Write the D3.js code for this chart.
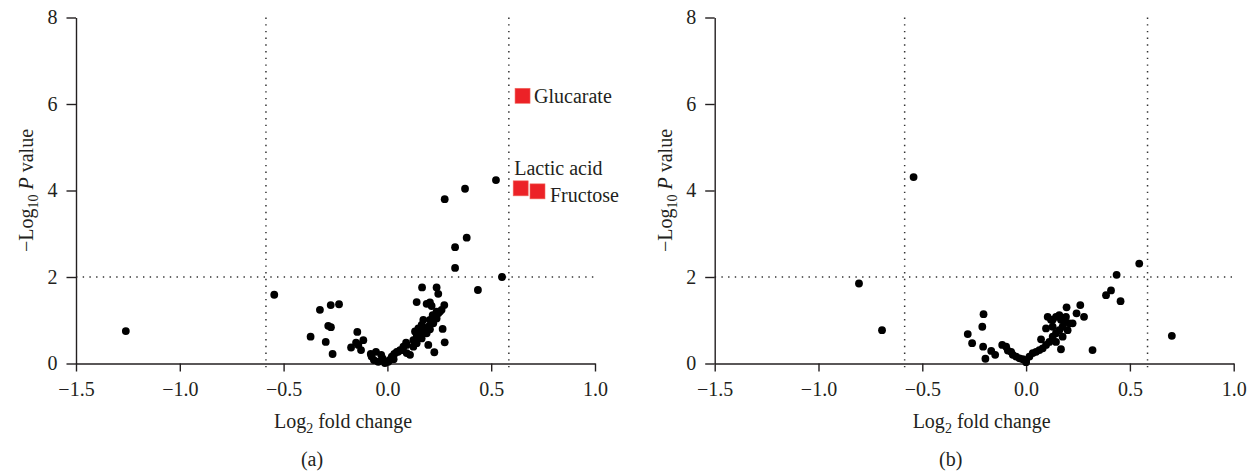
<!DOCTYPE html>
<html>
<head>
<meta charset="utf-8">
<script src="https://cdn.jsdelivr.net/npm/d3@7"></script>
<style>
  html, body { margin: 0; padding: 0; background: #fff; }
  svg text { font-family: "Liberation Serif", "DejaVu Serif", serif; fill: #231f20; }
</style>
</head>
<body>
<svg id="chart" width="1254" height="473"></svg>
<script>
// ---- data ----
const xTicks = [-1.5, -1.0, -0.5, 0.0, 0.5, 1.0];
const yTicks = [0, 2, 4, 6, 8];
const foldThreshold = 0.585;   // log2(1.5)
const pThreshold = 2;
const panelLabels = ["(a)", "(b)"];

const pointsA = [
  [-1.26,0.75],[-0.545,1.59],[-0.37,0.62],[-0.325,1.24],[-0.273,1.35],[-0.233,1.37],
  [-0.285,0.87],[-0.272,0.84],[-0.297,0.50],[-0.264,0.22],
  [-0.145,0.73],[-0.175,0.37],[-0.151,0.48],[-0.140,0.43],[-0.116,0.54],[-0.127,0.31],
  [-0.055,0.27],[-0.076,0.16],[-0.065,0.08],[-0.044,0.04],[-0.023,0.12],[-0.012,0.01],
  [0.004,0.04],[-0.03,0.20],[-0.08,0.22],[0.01,0.08],[0.03,0.10],
  [0.021,0.16],[0.033,0.22],[0.045,0.27],[0.052,0.27],[0.061,0.31],[0.074,0.31],
  [0.077,0.39],[0.093,0.24],[0.090,0.48],[0.093,0.43],[0.109,0.20],[0.125,0.39],[0.125,0.54],
  [0.133,0.74],[0.141,0.62],[0.141,0.47],[0.149,0.81],[0.149,0.74],[0.157,0.66],
  [0.165,0.89],[0.165,0.58],[0.173,1.01],[0.181,0.77],[0.189,0.70],[0.197,0.85],
  [0.205,0.79],[0.205,1.01],[0.213,0.97],[0.218,1.12],[0.221,0.93],[0.229,1.08],
  [0.237,1.04],[0.237,1.20],[0.245,1.16],[0.253,1.20],[0.261,1.24],
  [0.141,1.42],[0.167,1.76],[0.189,1.38],[0.205,1.41],[0.213,1.33],[0.237,1.76],
  [0.245,1.61],[0.274,1.35],[0.266,0.80],[0.276,0.49],[0.197,0.43],[0.226,0.26],
  [0.276,3.80],[0.374,4.04],[0.523,4.24],[0.382,2.91],[0.326,2.69],[0.326,2.21],
  [0.436,1.70],[0.552,2.00]
];
const highlightNames = ["Glucarate", "Lactic acid", "Fructose"];
const highlightX = [0.651, 0.642, 0.723];
const highlightY = [6.19, 4.05, 3.98];

const pointsB = [
  [-0.805,1.85],[-0.694,0.77],[-0.542,4.31],
  [-0.281,0.68],[-0.260,0.47],[-0.211,0.85],[-0.205,1.14],[-0.207,0.39],[-0.196,0.11],
  [-0.168,0.29],[-0.149,0.20],
  [-0.115,0.43],[-0.096,0.39],[-0.088,0.30],[-0.072,0.27],[-0.064,0.20],[-0.048,0.16],
  [-0.032,0.12],[-0.016,0.10],[0.0,0.08],[0.0,0.03],
  [0.016,0.16],[0.032,0.24],[0.048,0.27],[0.064,0.31],[0.080,0.35],[0.096,0.43],
  [0.112,0.50],[0.128,0.62],[0.144,0.70],[0.160,0.77],[0.176,0.85],[0.184,0.97],
  [0.192,1.08],[0.168,1.01],[0.128,0.85],[0.072,0.56],[0.096,0.81],[0.104,1.08],
  [0.128,1.01],[0.144,1.08],[0.160,1.12],[0.195,1.30],[0.224,0.93],[0.243,1.16],
  [0.261,1.35],[0.279,1.08],[0.168,0.33],[0.320,0.31],[0.144,0.50],[0.176,0.62],
  [0.200,0.77],[0.208,0.93],[0.120,1.01],
  [0.545,2.31],[0.436,2.05],[0.409,1.69],[0.385,1.58],[0.455,1.44],[0.702,0.64]
];

// ---- drawing ----
const svg = d3.select("#chart");
const panelW = 519, plotTop = 17.5, plotBottom = 363.5;
const panelX = [76, 714.7];

function drawPanel(i, points, highlights) {
  const ox = panelX[i];
  const x = d3.scaleLinear().domain([-1.5, 1.0]).range([ox, ox + panelW]);
  const y = d3.scaleLinear().domain([0, 8]).range([plotBottom, plotTop]);
  const g = svg.append("g");

  // threshold lines
  const dot = { stroke: "#333", "stroke-width": 1.5, "stroke-dasharray": "1.4 5.3" };
  const hl = g.append("line")
    .attr("x1", x(-1.5)).attr("x2", x(1.0))
    .attr("y1", y(pThreshold)).attr("y2", y(pThreshold));
  Object.entries(dot).forEach(([k, v]) => hl.attr(k, v));
  [-foldThreshold, foldThreshold].forEach(t => {
    const vl = g.append("line")
      .attr("x1", x(t)).attr("x2", x(t))
      .attr("y1", y(8)).attr("y2", y(0) + 8);
    Object.entries(dot).forEach(([k, v]) => vl.attr(k, v));
  });

  // axes
  const xAxis = d3.axisBottom(x).tickValues(xTicks).tickFormat(d3.format(".1f"))
    .tickSize(8).tickSizeOuter(0).tickPadding(10);
  const yAxis = d3.axisLeft(y).tickValues(yTicks).tickFormat(d3.format("d"))
    .tickSize(9.5).tickSizeOuter(0).tickPadding(9);
  const gx = g.append("g").attr("transform", `translate(0,${plotBottom})`).call(xAxis);
  const gy = g.append("g").attr("transform", `translate(${ox},0)`).call(yAxis);
  [gx, gy].forEach(a => {
    a.selectAll("path, line").attr("stroke", "#231f20").attr("stroke-width", 1.4);
    a.selectAll("text").attr("font-size", 20).attr("fill", "#231f20")
      .style("font-family", '"Liberation Serif", serif');
  });

  // points
  g.append("g").selectAll("circle").data(points).join("circle")
    .attr("cx", d => x(d[0])).attr("cy", d => y(d[1]))
    .attr("r", 3.9).attr("fill", "#000");

  if (highlights) {
    const s = 15;
    g.append("g").selectAll("rect").data(highlights).join("rect")
      .attr("x", d => x(d.x) - s / 2).attr("y", d => y(d.y) - s / 2)
      .attr("width", s).attr("height", s)
      .attr("fill", "#ec2227").attr("stroke", "#f06a5f").attr("stroke-width", 0.6);
    const lab = [
      { dx: 11.5, dy: 7.5 },
      { dx: -6.5, dy: -13.5 },
      { dx: 12.5, dy: 10.5 }
    ];
    g.append("g").selectAll("text").data(highlights).join("text")
      .attr("x", (d, k) => x(d.x) + lab[k].dx)
      .attr("y", (d, k) => y(d.y) + lab[k].dy)
      .attr("font-size", 20)
      .text(d => d.name);
  }

  // axis titles
  const cx = ox + 267;
  const xt = g.append("text").attr("x", cx).attr("y", 428).attr("text-anchor", "middle").attr("font-size", 20);
  xt.append("tspan").text("Log");
  xt.append("tspan").attr("font-size", 14).attr("dy", 5).text("2");
  xt.append("tspan").attr("dy", -5).text(" fold change");

  const yt = g.append("text")
    .attr("transform", `translate(${ox - 43},${(plotTop + plotBottom) / 2}) rotate(-90)`)
    .attr("text-anchor", "middle").attr("font-size", 20);
  yt.append("tspan").text("\u2212Log");
  yt.append("tspan").attr("font-size", 14).attr("dy", 5).text("10");
  yt.append("tspan").attr("dy", -5).text(" ");
  yt.append("tspan").attr("font-style", "italic").text("P");
  yt.append("tspan").text(" value");

  g.append("text").attr("x", ox + 236).attr("y", 466).attr("text-anchor", "middle")
    .attr("font-size", 20).text(panelLabels[i]);
}

const highlightsA = highlightNames.map((n, k) => ({ name: n, x: highlightX[k], y: highlightY[k] }));
drawPanel(0, pointsA, highlightsA);
drawPanel(1, pointsB, null);
</script>
</body>
</html>
